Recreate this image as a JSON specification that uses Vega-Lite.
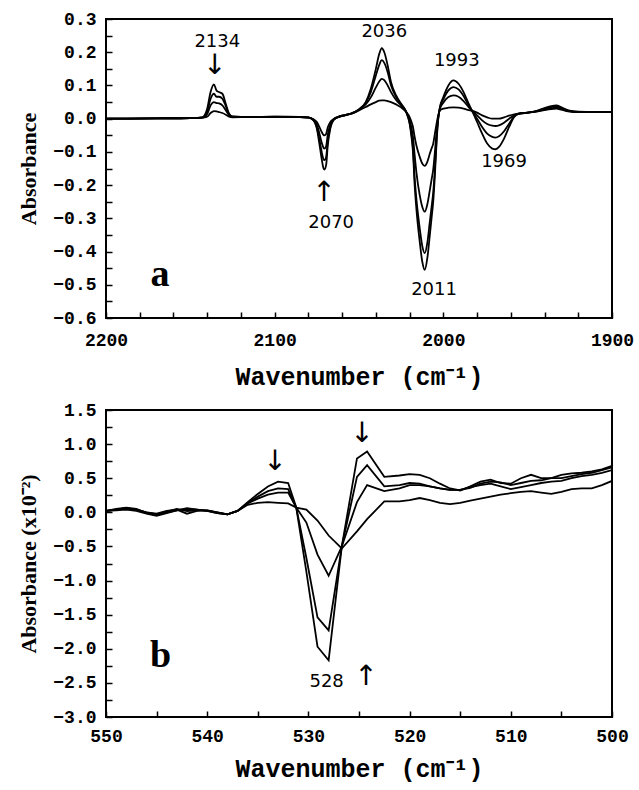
{
  "$schema": "https://vega.github.io/schema/vega-lite/v6.json",
  "background": "white",
  "padding": {"left": 16, "top": 9, "right": 4, "bottom": 6},
  "spacing": 10,
  "config": {
    "view": {"stroke": "black", "strokeWidth": 2},
    "axis": {"domain": false, "grid": false, "ticks": true, "tickColor": "black", "tickWidth": 1.5, "tickSize": 6, "offset": -6, "zindex": 1, "tickCount": 100,
      "labelFont": "Liberation Mono", "labelFontWeight": "bold", "labelFontSize": 18, "labelColor": "black",
      "labelFlush": false, "labelOverlap": false, "labelBound": false, "titleColor": "black"},
    "axisX": {"titleFont": "Liberation Mono", "titleFontWeight": "bold", "titleFontSize": 25, "titlePadding": 15, "labelPadding": 13},
    "axisY": {"titleFont": "Liberation Serif", "titleFontWeight": "bold", "titleFontSize": 22, "titlePadding": 12, "labelPadding": 10}
  },
  "vconcat": [
    {
      "width": 506, "height": 299,
      "layer": [
        {
          "data": {"values": [
{"w":2200,"s":1,"a":0},{"w":2170,"s":1,"a":0.001},{"w":2150,"s":1,"a":0.002},{"w":2143,"s":1,"a":0.003},{"w":2140,"s":1,"a":0.006},{"w":2138,"s":1,"a":0.017},{"w":2136,"s":1,"a":0.023},{"w":2134.5,"s":1,"a":0.022},{"w":2133,"s":1,"a":0.02},{"w":2131,"s":1,"a":0.017},{"w":2129,"s":1,"a":0.012},{"w":2127,"s":1,"a":0.006},{"w":2125,"s":1,"a":0.004},{"w":2115,"s":1,"a":0.005},{"w":2100,"s":1,"a":0.005},{"w":2085,"s":1,"a":0.005},{"w":2080,"s":1,"a":0.004},{"w":2077,"s":1,"a":-0.002},{"w":2075,"s":1,"a":-0.01},{"w":2073.5,"s":1,"a":-0.025},{"w":2072,"s":1,"a":-0.041},{"w":2071,"s":1,"a":-0.049},{"w":2070.5,"s":1,"a":-0.05},{"w":2069.5,"s":1,"a":-0.046},{"w":2068.5,"s":1,"a":-0.026},{"w":2067,"s":1,"a":-0.01},{"w":2065,"s":1,"a":-0.001},{"w":2062,"s":1,"a":0.006},{"w":2058,"s":1,"a":0.011},{"w":2054,"s":1,"a":0.016},{"w":2050,"s":1,"a":0.025},{"w":2046,"s":1,"a":0.035},{"w":2043,"s":1,"a":0.043},{"w":2040,"s":1,"a":0.05},{"w":2038,"s":1,"a":0.054},{"w":2036.5,"s":1,"a":0.055},{"w":2035,"s":1,"a":0.055},{"w":2033,"s":1,"a":0.053},{"w":2031,"s":1,"a":0.05},{"w":2028,"s":1,"a":0.043},{"w":2025,"s":1,"a":0.034},{"w":2022,"s":1,"a":0.02},{"w":2020,"s":1,"a":0.005},{"w":2019,"s":1,"a":-0.008},{"w":2018,"s":1,"a":-0.025},{"w":2017,"s":1,"a":-0.055},{"w":2016,"s":1,"a":-0.08},{"w":2014,"s":1,"a":-0.115},{"w":2012.5,"s":1,"a":-0.135},{"w":2011,"s":1,"a":-0.142},{"w":2009.5,"s":1,"a":-0.13},{"w":2008,"s":1,"a":-0.105},{"w":2007,"s":1,"a":-0.09},{"w":2006,"s":1,"a":-0.075},{"w":2005,"s":1,"a":-0.045},{"w":2004,"s":1,"a":-0.015},{"w":2003,"s":1,"a":0.01},{"w":2002,"s":1,"a":0.025},{"w":2000,"s":1,"a":0.03},{"w":1997,"s":1,"a":0.033},{"w":1994,"s":1,"a":0.034},{"w":1991,"s":1,"a":0.033},{"w":1988,"s":1,"a":0.03},{"w":1985,"s":1,"a":0.026},{"w":1983,"s":1,"a":0.024},{"w":1980,"s":1,"a":0.018},{"w":1977,"s":1,"a":0.01},{"w":1974,"s":1,"a":0.004},{"w":1971,"s":1,"a":0},{"w":1969,"s":1,"a":0},{"w":1967,"s":1,"a":0},{"w":1964,"s":1,"a":0.004},{"w":1961,"s":1,"a":0.009},{"w":1958,"s":1,"a":0.013},{"w":1955,"s":1,"a":0.016},{"w":1950,"s":1,"a":0.018},{"w":1945,"s":1,"a":0.021},{"w":1940,"s":1,"a":0.026},{"w":1936,"s":1,"a":0.029},{"w":1933,"s":1,"a":0.03},{"w":1930,"s":1,"a":0.027},{"w":1926,"s":1,"a":0.022},{"w":1920,"s":1,"a":0.02},{"w":1910,"s":1,"a":0.02},{"w":1900,"s":1,"a":0.02},
{"w":2200,"s":2,"a":0},{"w":2170,"s":2,"a":0.001},{"w":2150,"s":2,"a":0.002},{"w":2143,"s":2,"a":0.003},{"w":2140,"s":2,"a":0.014},{"w":2138,"s":2,"a":0.04},{"w":2136,"s":2,"a":0.05},{"w":2134.5,"s":2,"a":0.047},{"w":2133,"s":2,"a":0.046},{"w":2131,"s":2,"a":0.04},{"w":2129,"s":2,"a":0.025},{"w":2127,"s":2,"a":0.01},{"w":2125,"s":2,"a":0.005},{"w":2115,"s":2,"a":0.005},{"w":2100,"s":2,"a":0.005},{"w":2085,"s":2,"a":0.005},{"w":2080,"s":2,"a":0.004},{"w":2077,"s":2,"a":-0.003},{"w":2075,"s":2,"a":-0.018},{"w":2073.5,"s":2,"a":-0.044},{"w":2072,"s":2,"a":-0.074},{"w":2071,"s":2,"a":-0.088},{"w":2070.5,"s":2,"a":-0.09},{"w":2069.5,"s":2,"a":-0.083},{"w":2068.5,"s":2,"a":-0.047},{"w":2067,"s":2,"a":-0.018},{"w":2065,"s":2,"a":-0.002},{"w":2062,"s":2,"a":0.006},{"w":2058,"s":2,"a":0.011},{"w":2054,"s":2,"a":0.016},{"w":2050,"s":2,"a":0.027},{"w":2046,"s":2,"a":0.043},{"w":2043,"s":2,"a":0.064},{"w":2040,"s":2,"a":0.094},{"w":2038,"s":2,"a":0.112},{"w":2036.5,"s":2,"a":0.12},{"w":2035,"s":2,"a":0.116},{"w":2033,"s":2,"a":0.1},{"w":2031,"s":2,"a":0.08},{"w":2028,"s":2,"a":0.056},{"w":2025,"s":2,"a":0.04},{"w":2022,"s":2,"a":0.02},{"w":2020,"s":2,"a":-0.005},{"w":2019,"s":2,"a":-0.025},{"w":2018,"s":2,"a":-0.055},{"w":2017,"s":2,"a":-0.11},{"w":2016,"s":2,"a":-0.16},{"w":2014,"s":2,"a":-0.23},{"w":2012.5,"s":2,"a":-0.265},{"w":2011,"s":2,"a":-0.28},{"w":2009.5,"s":2,"a":-0.258},{"w":2008,"s":2,"a":-0.215},{"w":2007,"s":2,"a":-0.184},{"w":2006,"s":2,"a":-0.153},{"w":2005,"s":2,"a":-0.1},{"w":2004,"s":2,"a":-0.04},{"w":2003,"s":2,"a":0.005},{"w":2002,"s":2,"a":0.03},{"w":2000,"s":2,"a":0.048},{"w":1997,"s":2,"a":0.065},{"w":1994,"s":2,"a":0.07},{"w":1991,"s":2,"a":0.066},{"w":1988,"s":2,"a":0.053},{"w":1985,"s":2,"a":0.035},{"w":1983,"s":2,"a":0.024},{"w":1980,"s":2,"a":0.01},{"w":1977,"s":2,"a":-0.005},{"w":1974,"s":2,"a":-0.016},{"w":1971,"s":2,"a":-0.021},{"w":1969,"s":2,"a":-0.022},{"w":1967,"s":2,"a":-0.02},{"w":1964,"s":2,"a":-0.012},{"w":1961,"s":2,"a":0},{"w":1958,"s":2,"a":0.01},{"w":1955,"s":2,"a":0.015},{"w":1950,"s":2,"a":0.018},{"w":1945,"s":2,"a":0.022},{"w":1940,"s":2,"a":0.028},{"w":1936,"s":2,"a":0.032},{"w":1933,"s":2,"a":0.033},{"w":1930,"s":2,"a":0.029},{"w":1926,"s":2,"a":0.023},{"w":1920,"s":2,"a":0.02},{"w":1910,"s":2,"a":0.02},{"w":1900,"s":2,"a":0.02},
{"w":2200,"s":3,"a":0},{"w":2170,"s":3,"a":0.001},{"w":2150,"s":3,"a":0.002},{"w":2143,"s":3,"a":0.003},{"w":2140,"s":3,"a":0.022},{"w":2138,"s":3,"a":0.06},{"w":2136,"s":3,"a":0.075},{"w":2134.5,"s":3,"a":0.066},{"w":2133,"s":3,"a":0.066},{"w":2131,"s":3,"a":0.06},{"w":2129,"s":3,"a":0.038},{"w":2127,"s":3,"a":0.013},{"w":2125,"s":3,"a":0.006},{"w":2115,"s":3,"a":0.005},{"w":2100,"s":3,"a":0.006},{"w":2085,"s":3,"a":0.005},{"w":2080,"s":3,"a":0.003},{"w":2077,"s":3,"a":-0.004},{"w":2075,"s":3,"a":-0.025},{"w":2073.5,"s":3,"a":-0.062},{"w":2072,"s":3,"a":-0.103},{"w":2071,"s":3,"a":-0.123},{"w":2070.5,"s":3,"a":-0.125},{"w":2069.5,"s":3,"a":-0.115},{"w":2068.5,"s":3,"a":-0.066},{"w":2067,"s":3,"a":-0.025},{"w":2065,"s":3,"a":-0.003},{"w":2062,"s":3,"a":0.005},{"w":2058,"s":3,"a":0.011},{"w":2054,"s":3,"a":0.017},{"w":2050,"s":3,"a":0.028},{"w":2046,"s":3,"a":0.048},{"w":2043,"s":3,"a":0.08},{"w":2040,"s":3,"a":0.13},{"w":2038,"s":3,"a":0.162},{"w":2036.5,"s":3,"a":0.176},{"w":2035,"s":3,"a":0.168},{"w":2033,"s":3,"a":0.14},{"w":2031,"s":3,"a":0.1},{"w":2028,"s":3,"a":0.065},{"w":2025,"s":3,"a":0.043},{"w":2022,"s":3,"a":0.02},{"w":2020,"s":3,"a":-0.012},{"w":2019,"s":3,"a":-0.043},{"w":2018,"s":3,"a":-0.088},{"w":2017,"s":3,"a":-0.178},{"w":2016,"s":3,"a":-0.24},{"w":2014,"s":3,"a":-0.33},{"w":2012.5,"s":3,"a":-0.383},{"w":2011,"s":3,"a":-0.405},{"w":2009.5,"s":3,"a":-0.374},{"w":2008,"s":3,"a":-0.31},{"w":2007,"s":3,"a":-0.267},{"w":2006,"s":3,"a":-0.222},{"w":2005,"s":3,"a":-0.15},{"w":2004,"s":3,"a":-0.06},{"w":2003,"s":3,"a":0.002},{"w":2002,"s":3,"a":0.034},{"w":2000,"s":3,"a":0.058},{"w":1997,"s":3,"a":0.085},{"w":1994,"s":3,"a":0.095},{"w":1991,"s":3,"a":0.088},{"w":1988,"s":3,"a":0.068},{"w":1985,"s":3,"a":0.04},{"w":1983,"s":3,"a":0.024},{"w":1980,"s":3,"a":0},{"w":1977,"s":3,"a":-0.025},{"w":1974,"s":3,"a":-0.045},{"w":1971,"s":3,"a":-0.055},{"w":1969,"s":3,"a":-0.057},{"w":1967,"s":3,"a":-0.053},{"w":1964,"s":3,"a":-0.038},{"w":1961,"s":3,"a":-0.015},{"w":1958,"s":3,"a":0.007},{"w":1955,"s":3,"a":0.015},{"w":1950,"s":3,"a":0.018},{"w":1945,"s":3,"a":0.022},{"w":1940,"s":3,"a":0.03},{"w":1936,"s":3,"a":0.035},{"w":1933,"s":3,"a":0.037},{"w":1930,"s":3,"a":0.032},{"w":1926,"s":3,"a":0.024},{"w":1920,"s":3,"a":0.02},{"w":1910,"s":3,"a":0.02},{"w":1900,"s":3,"a":0.02},
{"w":2200,"s":4,"a":0},{"w":2170,"s":4,"a":0.001},{"w":2150,"s":4,"a":0.002},{"w":2143,"s":4,"a":0.004},{"w":2140,"s":4,"a":0.03},{"w":2138,"s":4,"a":0.08},{"w":2136,"s":4,"a":0.103},{"w":2134.5,"s":4,"a":0.085},{"w":2133,"s":4,"a":0.08},{"w":2131,"s":4,"a":0.075},{"w":2129,"s":4,"a":0.045},{"w":2127,"s":4,"a":0.015},{"w":2125,"s":4,"a":0.007},{"w":2115,"s":4,"a":0.005},{"w":2100,"s":4,"a":0.006},{"w":2085,"s":4,"a":0.005},{"w":2080,"s":4,"a":0.003},{"w":2077,"s":4,"a":-0.005},{"w":2075,"s":4,"a":-0.03},{"w":2073.5,"s":4,"a":-0.075},{"w":2072,"s":4,"a":-0.125},{"w":2071,"s":4,"a":-0.15},{"w":2070.5,"s":4,"a":-0.153},{"w":2069.5,"s":4,"a":-0.14},{"w":2068.5,"s":4,"a":-0.08},{"w":2067,"s":4,"a":-0.03},{"w":2065,"s":4,"a":-0.004},{"w":2062,"s":4,"a":0.005},{"w":2058,"s":4,"a":0.011},{"w":2054,"s":4,"a":0.017},{"w":2050,"s":4,"a":0.028},{"w":2046,"s":4,"a":0.05},{"w":2043,"s":4,"a":0.09},{"w":2040,"s":4,"a":0.15},{"w":2038,"s":4,"a":0.195},{"w":2036.5,"s":4,"a":0.212},{"w":2035,"s":4,"a":0.2},{"w":2033,"s":4,"a":0.16},{"w":2031,"s":4,"a":0.11},{"w":2028,"s":4,"a":0.07},{"w":2025,"s":4,"a":0.045},{"w":2022,"s":4,"a":0.02},{"w":2020,"s":4,"a":-0.015},{"w":2019,"s":4,"a":-0.05},{"w":2018,"s":4,"a":-0.1},{"w":2017,"s":4,"a":-0.2},{"w":2016,"s":4,"a":-0.27},{"w":2014,"s":4,"a":-0.37},{"w":2012.5,"s":4,"a":-0.43},{"w":2011,"s":4,"a":-0.455},{"w":2009.5,"s":4,"a":-0.42},{"w":2008,"s":4,"a":-0.35},{"w":2007,"s":4,"a":-0.3},{"w":2006,"s":4,"a":-0.25},{"w":2005,"s":4,"a":-0.17},{"w":2004,"s":4,"a":-0.07},{"w":2003,"s":4,"a":0},{"w":2002,"s":4,"a":0.035},{"w":2000,"s":4,"a":0.065},{"w":1997,"s":4,"a":0.1},{"w":1994,"s":4,"a":0.115},{"w":1991,"s":4,"a":0.105},{"w":1988,"s":4,"a":0.08},{"w":1985,"s":4,"a":0.045},{"w":1983,"s":4,"a":0.024},{"w":1980,"s":4,"a":-0.01},{"w":1977,"s":4,"a":-0.045},{"w":1974,"s":4,"a":-0.075},{"w":1971,"s":4,"a":-0.09},{"w":1969,"s":4,"a":-0.092},{"w":1967,"s":4,"a":-0.085},{"w":1964,"s":4,"a":-0.06},{"w":1961,"s":4,"a":-0.025},{"w":1958,"s":4,"a":0.005},{"w":1955,"s":4,"a":0.015},{"w":1950,"s":4,"a":0.018},{"w":1945,"s":4,"a":0.023},{"w":1940,"s":4,"a":0.032},{"w":1936,"s":4,"a":0.038},{"w":1933,"s":4,"a":0.04},{"w":1930,"s":4,"a":0.034},{"w":1926,"s":4,"a":0.025},{"w":1920,"s":4,"a":0.021},{"w":1910,"s":4,"a":0.02},{"w":1900,"s":4,"a":0.02}
          ]},
          "mark": {"type": "line", "color": "black", "strokeWidth": 1.8, "interpolate": "monotone", "clip": true},
          "encoding": {
            "x": {"field": "w", "type": "quantitative", "scale": {"domain": [1900, 2200], "reverse": true, "nice": false},
              "axis": {"title": "Wavenumber (cm⁻¹)", "tickCount": 100, "labelOverlap": false, "values": [2200,2180,2160,2140,2120,2100,2080,2060,2040,2020,2000,1980,1960,1940,1920,1900],
                "labelExpr": "datum.value % 100 == 0 ? format(datum.value, 'd') : ''"}},
            "y": {"field": "a", "type": "quantitative", "scale": {"domain": [-0.6, 0.3], "nice": false, "zero": false},
              "axis": {"title": "Absorbance", "tickCount": 100, "labelOverlap": false, "values": [-0.6,-0.55,-0.5,-0.45,-0.4,-0.35,-0.3,-0.25,-0.2,-0.15,-0.1,-0.05,0,0.05,0.1,0.15,0.2,0.25,0.3],
                "labelExpr": "abs(round(datum.value * 20)) % 2 == 0 ? format(datum.value, '.1f') : ''"}},
            "detail": {"field": "s", "type": "nominal"}
          }
        },
        {
          "data": {"values": [
            {"w": 2134, "a": 0.232, "t": "2134"},
            {"w": 2035, "a": 0.262, "t": "2036"},
            {"w": 1992, "a": 0.173, "t": "1993"},
            {"w": 1964, "a": -0.13, "t": "1969"},
            {"w": 2005.5, "a": -0.515, "t": "2011"},
            {"w": 2066.5, "a": -0.315, "t": "2070"}
          ]},
          "mark": {"type": "text", "font": "DejaVu Sans", "fontSize": 18, "color": "black", "align": "center", "baseline": "middle"},
          "encoding": {"x": {"field": "w", "type": "quantitative"}, "y": {"field": "a", "type": "quantitative"}, "text": {"field": "t"}}
        },
        {
          "data": {"values": [
            {"w": 2135.5, "a": 0.16, "t": "↓"},
            {"w": 2070.8, "a": -0.225, "t": "↑"}
          ]},
          "mark": {"type": "text", "font": "DejaVu Sans", "fontSize": 28, "color": "black", "align": "center", "baseline": "middle"},
          "encoding": {"x": {"field": "w", "type": "quantitative"}, "y": {"field": "a", "type": "quantitative"}, "text": {"field": "t"}}
        },
        {
          "data": {"values": [{"w": 2168, "a": -0.47, "t": "a"}]},
          "mark": {"type": "text", "font": "Liberation Serif", "fontWeight": "bold", "fontSize": 38, "color": "black", "align": "center", "baseline": "middle"},
          "encoding": {"x": {"field": "w", "type": "quantitative"}, "y": {"field": "a", "type": "quantitative"}, "text": {"field": "t"}}
        }
      ]
    },
    {
      "width": 506, "height": 307,
      "layer": [
        {
          "data": {"values": [
{"w":550,"s":1,"a":0.02},{"w":549,"s":1,"a":0.03},{"w":548,"s":1,"a":0.04},{"w":547,"s":1,"a":0.02},{"w":546,"s":1,"a":-0.02},{"w":545,"s":1,"a":-0.05},{"w":544,"s":1,"a":-0.01},{"w":543,"s":1,"a":0.03},{"w":542,"s":1,"a":0.06},{"w":541,"s":1,"a":0.04},{"w":540,"s":1,"a":0.02},{"w":539,"s":1,"a":-0.01},{"w":538,"s":1,"a":-0.03},{"w":537,"s":1,"a":0.02},{"w":536,"s":1,"a":0.11},{"w":535,"s":1,"a":0.14},{"w":534,"s":1,"a":0.15},{"w":533,"s":1,"a":0.14},{"w":532,"s":1,"a":0.13},{"w":531.2,"s":1,"a":0.07},{"w":530.2,"s":1,"a":0.04},{"w":529.1,"s":1,"a":-0.12},{"w":528,"s":1,"a":-0.34},{"w":526.7,"s":1,"a":-0.53},{"w":525.2,"s":1,"a":-0.28},{"w":524.2,"s":1,"a":-0.1},{"w":522.5,"s":1,"a":0.16},{"w":521,"s":1,"a":0.16},{"w":520,"s":1,"a":0.18},{"w":519,"s":1,"a":0.21},{"w":518,"s":1,"a":0.18},{"w":517,"s":1,"a":0.14},{"w":516,"s":1,"a":0.12},{"w":515,"s":1,"a":0.14},{"w":514,"s":1,"a":0.17},{"w":513,"s":1,"a":0.2},{"w":512,"s":1,"a":0.23},{"w":511,"s":1,"a":0.26},{"w":510,"s":1,"a":0.28},{"w":509,"s":1,"a":0.3},{"w":508,"s":1,"a":0.31},{"w":507,"s":1,"a":0.29},{"w":506,"s":1,"a":0.27},{"w":505,"s":1,"a":0.3},{"w":504,"s":1,"a":0.34},{"w":503,"s":1,"a":0.35},{"w":502,"s":1,"a":0.35},{"w":501,"s":1,"a":0.4},{"w":500,"s":1,"a":0.46},
{"w":550,"s":2,"a":0.02},{"w":549,"s":2,"a":0.04},{"w":548,"s":2,"a":0.06},{"w":547,"s":2,"a":0.04},{"w":546,"s":2,"a":0},{"w":545,"s":2,"a":-0.03},{"w":544,"s":2,"a":0.01},{"w":543,"s":2,"a":0.05},{"w":542,"s":2,"a":0.02},{"w":541,"s":2,"a":0.03},{"w":540,"s":2,"a":0.03},{"w":539,"s":2,"a":0},{"w":538,"s":2,"a":-0.03},{"w":537,"s":2,"a":0.02},{"w":536,"s":2,"a":0.13},{"w":535,"s":2,"a":0.2},{"w":534,"s":2,"a":0.26},{"w":533,"s":2,"a":0.29},{"w":532,"s":2,"a":0.29},{"w":531.2,"s":2,"a":0.07},{"w":530.2,"s":2,"a":-0.15},{"w":529.1,"s":2,"a":-0.62},{"w":528,"s":2,"a":-0.93},{"w":526.7,"s":2,"a":-0.5},{"w":525.2,"s":2,"a":0.15},{"w":524.2,"s":2,"a":0.4},{"w":522.5,"s":2,"a":0.31},{"w":521,"s":2,"a":0.35},{"w":520,"s":2,"a":0.4},{"w":519,"s":2,"a":0.4},{"w":518,"s":2,"a":0.38},{"w":517,"s":2,"a":0.35},{"w":516,"s":2,"a":0.33},{"w":515,"s":2,"a":0.33},{"w":514,"s":2,"a":0.37},{"w":513,"s":2,"a":0.4},{"w":512,"s":2,"a":0.42},{"w":511,"s":2,"a":0.38},{"w":510,"s":2,"a":0.34},{"w":509,"s":2,"a":0.37},{"w":508,"s":2,"a":0.4},{"w":507,"s":2,"a":0.43},{"w":506,"s":2,"a":0.45},{"w":505,"s":2,"a":0.46},{"w":504,"s":2,"a":0.5},{"w":503,"s":2,"a":0.53},{"w":502,"s":2,"a":0.55},{"w":501,"s":2,"a":0.58},{"w":500,"s":2,"a":0.62},
{"w":550,"s":3,"a":0.02},{"w":549,"s":3,"a":0.04},{"w":548,"s":3,"a":0.06},{"w":547,"s":3,"a":0.04},{"w":546,"s":3,"a":0},{"w":545,"s":3,"a":-0.02},{"w":544,"s":3,"a":0.02},{"w":543,"s":3,"a":0.04},{"w":542,"s":3,"a":-0.02},{"w":541,"s":3,"a":0.02},{"w":540,"s":3,"a":0.03},{"w":539,"s":3,"a":0},{"w":538,"s":3,"a":-0.03},{"w":537,"s":3,"a":0.02},{"w":536,"s":3,"a":0.14},{"w":535,"s":3,"a":0.23},{"w":534,"s":3,"a":0.31},{"w":533,"s":3,"a":0.35},{"w":532,"s":3,"a":0.34},{"w":531.2,"s":3,"a":0.07},{"w":530.2,"s":3,"a":-0.67},{"w":529.1,"s":3,"a":-1.54},{"w":528,"s":3,"a":-1.73},{"w":526.7,"s":3,"a":-0.5},{"w":525.2,"s":3,"a":0.52},{"w":524.2,"s":3,"a":0.69},{"w":522.5,"s":3,"a":0.38},{"w":521,"s":3,"a":0.4},{"w":520,"s":3,"a":0.43},{"w":519,"s":3,"a":0.42},{"w":518,"s":3,"a":0.38},{"w":517,"s":3,"a":0.35},{"w":516,"s":3,"a":0.33},{"w":515,"s":3,"a":0.33},{"w":514,"s":3,"a":0.36},{"w":513,"s":3,"a":0.42},{"w":512,"s":3,"a":0.45},{"w":511,"s":3,"a":0.44},{"w":510,"s":3,"a":0.4},{"w":509,"s":3,"a":0.43},{"w":508,"s":3,"a":0.46},{"w":507,"s":3,"a":0.47},{"w":506,"s":3,"a":0.5},{"w":505,"s":3,"a":0.5},{"w":504,"s":3,"a":0.53},{"w":503,"s":3,"a":0.56},{"w":502,"s":3,"a":0.58},{"w":501,"s":3,"a":0.62},{"w":500,"s":3,"a":0.66},
{"w":550,"s":4,"a":0.02},{"w":549,"s":4,"a":0.05},{"w":548,"s":4,"a":0.07},{"w":547,"s":4,"a":0.05},{"w":546,"s":4,"a":-0.01},{"w":545,"s":4,"a":-0.04},{"w":544,"s":4,"a":0},{"w":543,"s":4,"a":0.03},{"w":542,"s":4,"a":0.05},{"w":541,"s":4,"a":0.04},{"w":540,"s":4,"a":0.02},{"w":539,"s":4,"a":-0.01},{"w":538,"s":4,"a":-0.03},{"w":537,"s":4,"a":0.02},{"w":536,"s":4,"a":0.15},{"w":535,"s":4,"a":0.27},{"w":534,"s":4,"a":0.38},{"w":533,"s":4,"a":0.45},{"w":532,"s":4,"a":0.43},{"w":531.2,"s":4,"a":0.07},{"w":530.2,"s":4,"a":-0.87},{"w":529.1,"s":4,"a":-1.97},{"w":528,"s":4,"a":-2.17},{"w":526.7,"s":4,"a":-0.5},{"w":525.2,"s":4,"a":0.79},{"w":524.2,"s":4,"a":0.89},{"w":522.5,"s":4,"a":0.52},{"w":521,"s":4,"a":0.54},{"w":520,"s":4,"a":0.56},{"w":519,"s":4,"a":0.55},{"w":518,"s":4,"a":0.5},{"w":517,"s":4,"a":0.42},{"w":516,"s":4,"a":0.35},{"w":515,"s":4,"a":0.32},{"w":514,"s":4,"a":0.38},{"w":513,"s":4,"a":0.45},{"w":512,"s":4,"a":0.48},{"w":511,"s":4,"a":0.43},{"w":510,"s":4,"a":0.42},{"w":509,"s":4,"a":0.5},{"w":508,"s":4,"a":0.55},{"w":507,"s":4,"a":0.5},{"w":506,"s":4,"a":0.5},{"w":505,"s":4,"a":0.55},{"w":504,"s":4,"a":0.57},{"w":503,"s":4,"a":0.58},{"w":502,"s":4,"a":0.6},{"w":501,"s":4,"a":0.63},{"w":500,"s":4,"a":0.68}
          ]},
          "mark": {"type": "line", "color": "black", "strokeWidth": 1.8, "interpolate": "linear", "clip": true},
          "encoding": {
            "x": {"field": "w", "type": "quantitative", "scale": {"domain": [500, 550], "reverse": true, "nice": false},
              "axis": {"title": "Wavenumber (cm⁻¹)", "tickCount": 100, "titlePadding": 11, "labelPadding": 10, "labelOverlap": false, "values": [550,545,540,535,530,525,520,515,510,505,500],
                "labelExpr": "datum.value % 10 == 0 ? format(datum.value, 'd') : ''"}},
            "y": {"field": "a", "type": "quantitative", "scale": {"domain": [-3, 1.5], "nice": false, "zero": false},
              "axis": {"title": "Absorbance (x10⁻²)", "tickCount": 100, "labelOverlap": false, "values": [-3,-2.75,-2.5,-2.25,-2,-1.75,-1.5,-1.25,-1,-0.75,-0.5,-0.25,0,0.25,0.5,0.75,1,1.25,1.5],
                "labelExpr": "abs(round(datum.value * 4)) % 2 == 0 ? format(datum.value, '.1f') : ''"}},
            "detail": {"field": "s", "type": "nominal"}
          }
        },
        {
          "data": {"values": [{"w": 528.2, "a": -2.49, "t": "528"}]},
          "mark": {"type": "text", "font": "DejaVu Sans", "fontSize": 18, "color": "black", "align": "center", "baseline": "middle"},
          "encoding": {"x": {"field": "w", "type": "quantitative"}, "y": {"field": "a", "type": "quantitative"}, "text": {"field": "t"}}
        },
        {
          "data": {"values": [
            {"w": 533.3, "a": 0.74, "t": "↓"},
            {"w": 524.7, "a": 1.15, "t": "↓"},
            {"w": 524.3, "a": -2.42, "t": "↑"}
          ]},
          "mark": {"type": "text", "font": "DejaVu Sans", "fontSize": 28, "color": "black", "align": "center", "baseline": "middle"},
          "encoding": {"x": {"field": "w", "type": "quantitative"}, "y": {"field": "a", "type": "quantitative"}, "text": {"field": "t"}}
        },
        {
          "data": {"values": [{"w": 544.6, "a": -2.1, "t": "b"}]},
          "mark": {"type": "text", "font": "Liberation Serif", "fontWeight": "bold", "fontSize": 38, "color": "black", "align": "center", "baseline": "middle"},
          "encoding": {"x": {"field": "w", "type": "quantitative"}, "y": {"field": "a", "type": "quantitative"}, "text": {"field": "t"}}
        }
      ]
    }
  ]
}
